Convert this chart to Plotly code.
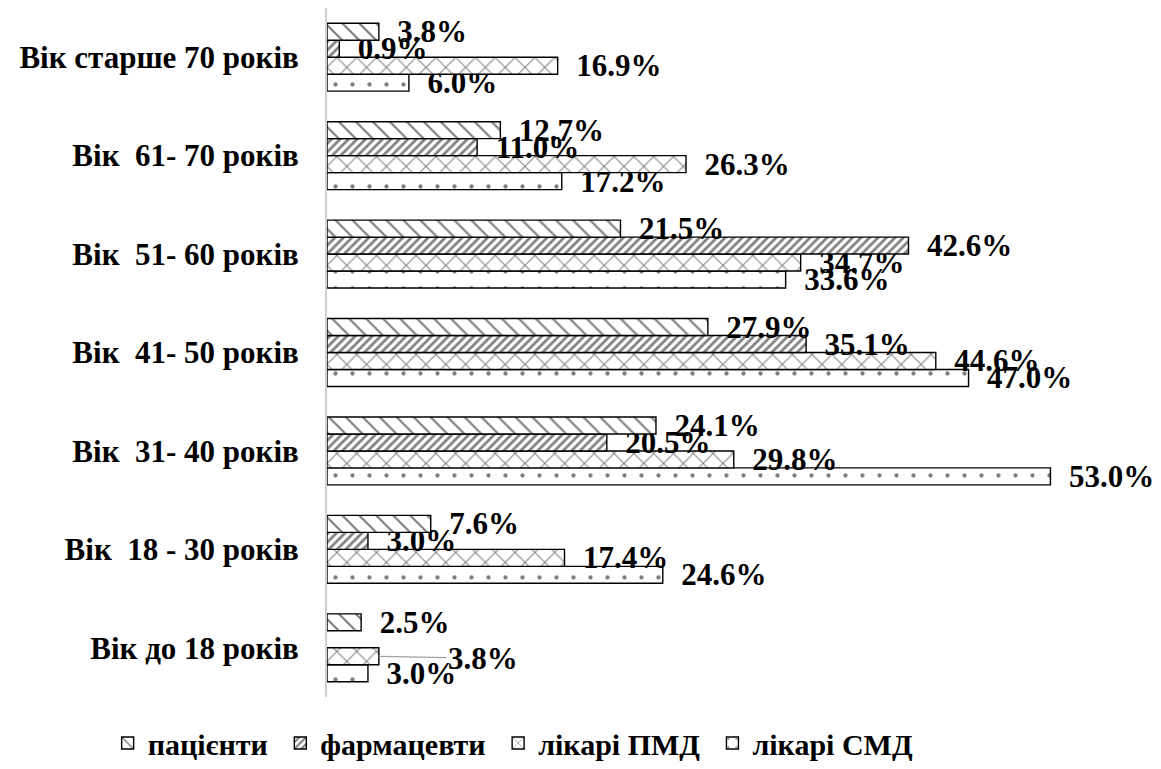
import plotly.graph_objects as go

# Age groups, bottom to top
categories = [
    "Вік до 18 років",
    "Вік\u00a0 18 - 30 років",
    "Вік\u00a0 31- 40 років",
    "Вік\u00a0 41- 50 років",
    "Вік\u00a0 51- 60 років",
    "Вік\u00a0 61- 70 років",
    "Вік старше 70 років",
]

# Shares (%) per respondent group, same order as categories
patients = [2.5, 7.6, 24.1, 27.9, 21.5, 12.7, 3.8]
pharmacists = [None, 3.0, 20.5, 35.1, 42.6, 11.0, 0.9]
pcp_doctors = [3.8, 17.4, 29.8, 44.6, 34.7, 26.3, 16.9]
specialist_doctors = [3.0, 24.6, 53.0, 47.0, 33.6, 17.2, 6.0]

series_names = ["пацієнти", "фармацевти", "лікарі ПМД", "лікарі СМД"]

FONT = "Times New Roman, Liberation Serif, serif"
BARGAP = 0.31
PAD = "\u00a0\u00a0"

fig = go.Figure()

def labels(values, skip=()):
    out = []
    for i, v in enumerate(values):
        if v is None or i in skip:
            out.append("")
        else:
            out.append(f"<b>{PAD}{v:.1f}%</b>")
    return out

# Plotly stacks grouped horizontal bars bottom-up, so add the bottom series first
traces = [
    (series_names[3], specialist_doctors, ".", 17, 0.05, 4, ()),
    (series_names[2], pcp_doctors, "x", 14, 0.14, 3, (0,)),
    (series_names[1], pharmacists, "/", 6, 0.45, 2, ()),
    (series_names[0], patients, "\\", 12, 0.18, 1, ()),
]

for name, vals, shape, size, solidity, rank, skip in traces:
    fig.add_trace(go.Bar(
        y=categories,
        x=vals,
        name=f"<b>{name}</b>\u00a0",
        orientation="h",
        legendrank=rank,
        text=labels(vals, skip),
        textposition="outside",
        cliponaxis=False,
        constraintext="none",
        textfont=dict(family=FONT, size=31, color="black"),
        marker=dict(
            color="white",
            line=dict(color="black", width=1.4),
            pattern=dict(shape=shape, size=size, solidity=solidity,
                         fgcolor="black", bgcolor="white", fillmode="overlay"),
        ),
    ))

# Label for the "до 18" ПМД bar, moved aside with a leader line
bar_w = (1 - BARGAP) / 4
fig.add_annotation(
    x=pcp_doctors[0], y=0 - 0.5 * bar_w,
    xref="x", yref="y",
    text=f"<b>{pcp_doctors[0]:.1f}%</b>",
    showarrow=True, arrowhead=0, arrowwidth=1.2, arrowcolor="#a0a0a0",
    ax=104, ay=2,
    font=dict(family=FONT, size=31, color="black"),
)

fig.update_layout(
    width=1161, height=769,
    margin=dict(l=327, r=15, t=8, b=72),
    paper_bgcolor="white",
    plot_bgcolor="white",
    barmode="group",
    bargap=BARGAP,
    bargroupgap=0,
    showlegend=True,
    legend=dict(
        orientation="h",
        xref="container", yref="container",
        x=0.445, y=0.0, xanchor="center", yanchor="bottom",
        font=dict(family=FONT, size=30, color="black"),
        itemwidth=30,
        tracegroupgap=0,
    ),
    xaxis=dict(
        range=[0, 60],
        visible=False,
        showgrid=False,
        zeroline=False,
    ),
    yaxis=dict(
        categoryorder="array",
        categoryarray=categories,
        range=[-0.5, 6.5],
        showline=True,
        linecolor="#d0d0d0",
        linewidth=2,
        showgrid=False,
        ticks="",
        ticklabelstandoff=20,
        tickprefix="<b>",
        ticksuffix="</b>",
        tickfont=dict(family=FONT, size=31, color="black"),
    ),
)

fig.write_html("out.html")
